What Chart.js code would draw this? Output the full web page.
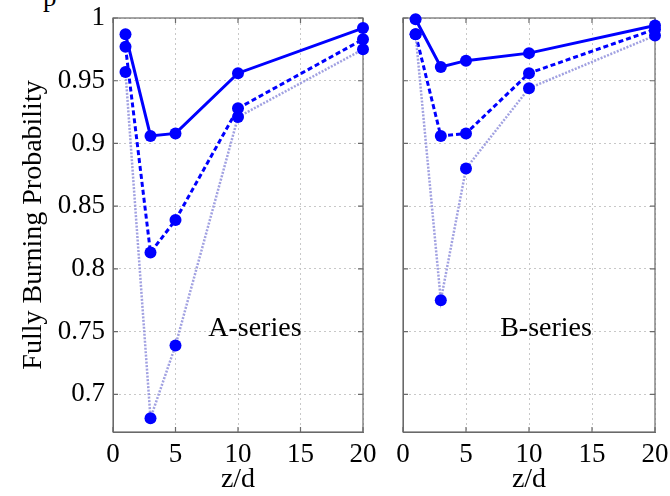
<!DOCTYPE html>
<html>
<head>
<meta charset="utf-8">
<script src="https://cdn.jsdelivr.net/npm/chart.js@4"></script>
<style>
  html, body { margin: 0; padding: 0; background: #fff; }
  body { width: 670px; height: 496px; position: relative; overflow: hidden; }
  canvas { position: absolute; top: 0; }
  #cA { left: 0; }
  #cB { left: 385px; }
  #frag { position: absolute; left: 43px; top: -18px; font: 27px "Liberation Serif", serif; color: #000; }
</style>
</head>
<body>
<span id="frag">p</span>
<canvas id="cA" width="385" height="496"></canvas>
<canvas id="cB" width="285" height="496"></canvas>
<script>
// ---- data ----
const xValues = [1, 3, 5, 10, 20];
const aSolid  = [0.987, 0.906, 0.908, 0.956, 0.992];
const aDashed = [0.977, 0.813, 0.839, 0.928, 0.983];
const aDotted = [0.957, 0.681, 0.739, 0.921, 0.975];
const bSolid  = [0.999, 0.961, 0.966, 0.972, 0.994];
const bDashed = [0.987, 0.906, 0.908, 0.956, 0.991];
const bDotted = [0.987, 0.775, 0.880, 0.944, 0.986];
const xTicks = [0, 5, 10, 15, 20];
const yTicks = [0.7, 0.75, 0.8, 0.85, 0.9, 0.95, 1];
const yTickLabels = ['0.7', '0.75', '0.8', '0.85', '0.9', '0.95', '1'];
const panelLabels = ['A-series', 'B-series'];
const panelLabelPos = [11.35, 0.752];
const xTitle = 'z/d';
const yTitle = 'Fully Burning Probability';

const FONT = '"Liberation Serif", "Times New Roman", serif';
const BLUE = '#0000ff';

function pts(ys) { return xValues.map((x, i) => ({ x: x, y: ys[i] })); }

function makeDatasets(s, d, o) {
  const common = { pointRadius: 6, pointHoverRadius: 6, pointBackgroundColor: BLUE, pointBorderWidth: 0, fill: false, tension: 0, clip: false };
  return [
    Object.assign({ data: pts(o), borderColor: 'rgba(130,130,215,0.75)', borderWidth: 2.5, borderDash: [2, 1.5] }, common),
    Object.assign({ data: pts(d), borderColor: BLUE, borderWidth: 3, borderDash: [5, 3] }, common),
    Object.assign({ data: pts(s), borderColor: BLUE, borderWidth: 3 }, common)
  ];
}

const framePlugin = {
  id: 'frame',
  beforeDatasetsDraw(chart) {
    const { ctx, chartArea: a, scales } = chart;
    ctx.save();
    ctx.strokeStyle = '#6a6a6a';
    ctx.lineWidth = 1.2;
    ctx.strokeRect(a.left, a.top, a.right - a.left, a.bottom - a.top);
    const L = 5;
    ctx.beginPath();
    scales.x.ticks.forEach(t => {
      const px = scales.x.getPixelForValue(t.value);
      ctx.moveTo(px, a.bottom); ctx.lineTo(px, a.bottom - L);
      ctx.moveTo(px, a.top); ctx.lineTo(px, a.top + L);
    });
    scales.y.ticks.forEach(t => {
      const py = scales.y.getPixelForValue(t.value);
      ctx.moveTo(a.left, py); ctx.lineTo(a.left + L, py);
      ctx.moveTo(a.right, py); ctx.lineTo(a.right - L, py);
    });
    ctx.stroke();
    ctx.restore();
  },
  afterDraw(chart) {
    const { ctx, scales } = chart;
    const label = chart.options.plugins.frame.label;
    ctx.save();
    ctx.font = '28px ' + FONT;
    ctx.fillStyle = '#000';
    ctx.textAlign = 'center';
    ctx.textBaseline = 'middle';
    ctx.fillText(label, scales.x.getPixelForValue(panelLabelPos[0]), scales.y.getPixelForValue(panelLabelPos[1]));
    ctx.restore();
  }
};

function makeChart(id, datasets, label, showY, yWidth, padRight) {
  return new Chart(document.getElementById(id), {
    type: 'line',
    data: { datasets: datasets },
    plugins: [framePlugin],
    options: {
      responsive: false,
      animation: false,
      devicePixelRatio: 1,
      layout: { padding: { top: 18, right: padRight, bottom: 0, left: 0 } },
      plugins: { legend: { display: false }, tooltip: { enabled: false }, frame: { label: label } },
      scales: {
        x: {
          type: 'linear', min: 0, max: 20,
          afterBuildTicks: s => { s.ticks = xTicks.map(v => ({ value: v })); },
          afterFit: s => { s.height = 64; s.paddingLeft = 0; s.paddingRight = 0; },
          ticks: { color: '#000', font: { family: FONT, size: 27 }, padding: 7, maxRotation: 0 },
          grid: { color: '#c8c8c8', lineWidth: 1, drawTicks: false },
          border: { display: true, color: '#6a6a6a', dash: [2, 3] },
          title: { display: true, text: xTitle, color: '#000', font: { family: FONT, size: 28 }, padding: { top: 0, bottom: 0 } }
        },
        y: {
          type: 'linear', min: 0.67, max: 1.0,
          afterBuildTicks: s => { s.ticks = yTicks.map(v => ({ value: v })); },
          afterFit: s => { s.width = yWidth; s.paddingTop = 0; s.paddingBottom = 0; },
          ticks: {
            display: showY, color: '#000', font: { family: FONT, size: 27 }, padding: 8,
            callback: (v) => { const i = yTicks.findIndex(t => Math.abs(t - v) < 1e-9); return i >= 0 ? yTickLabels[i] : ''; }
          },
          grid: { color: '#c8c8c8', lineWidth: 1, drawTicks: false },
          border: { display: true, color: '#6a6a6a', dash: [2, 3] },
          title: { display: showY, text: yTitle, color: '#000', font: { family: FONT, size: 28 }, padding: { top: 17, bottom: 0 } }
        }
      }
    }
  });
}

makeChart('cA', makeDatasets(aSolid, aDashed, aDotted), panelLabels[0], true, 113, 22);
makeChart('cB', makeDatasets(bSolid, bDashed, bDotted), panelLabels[1], false, 18, 15);
</script>
</body>
</html>
